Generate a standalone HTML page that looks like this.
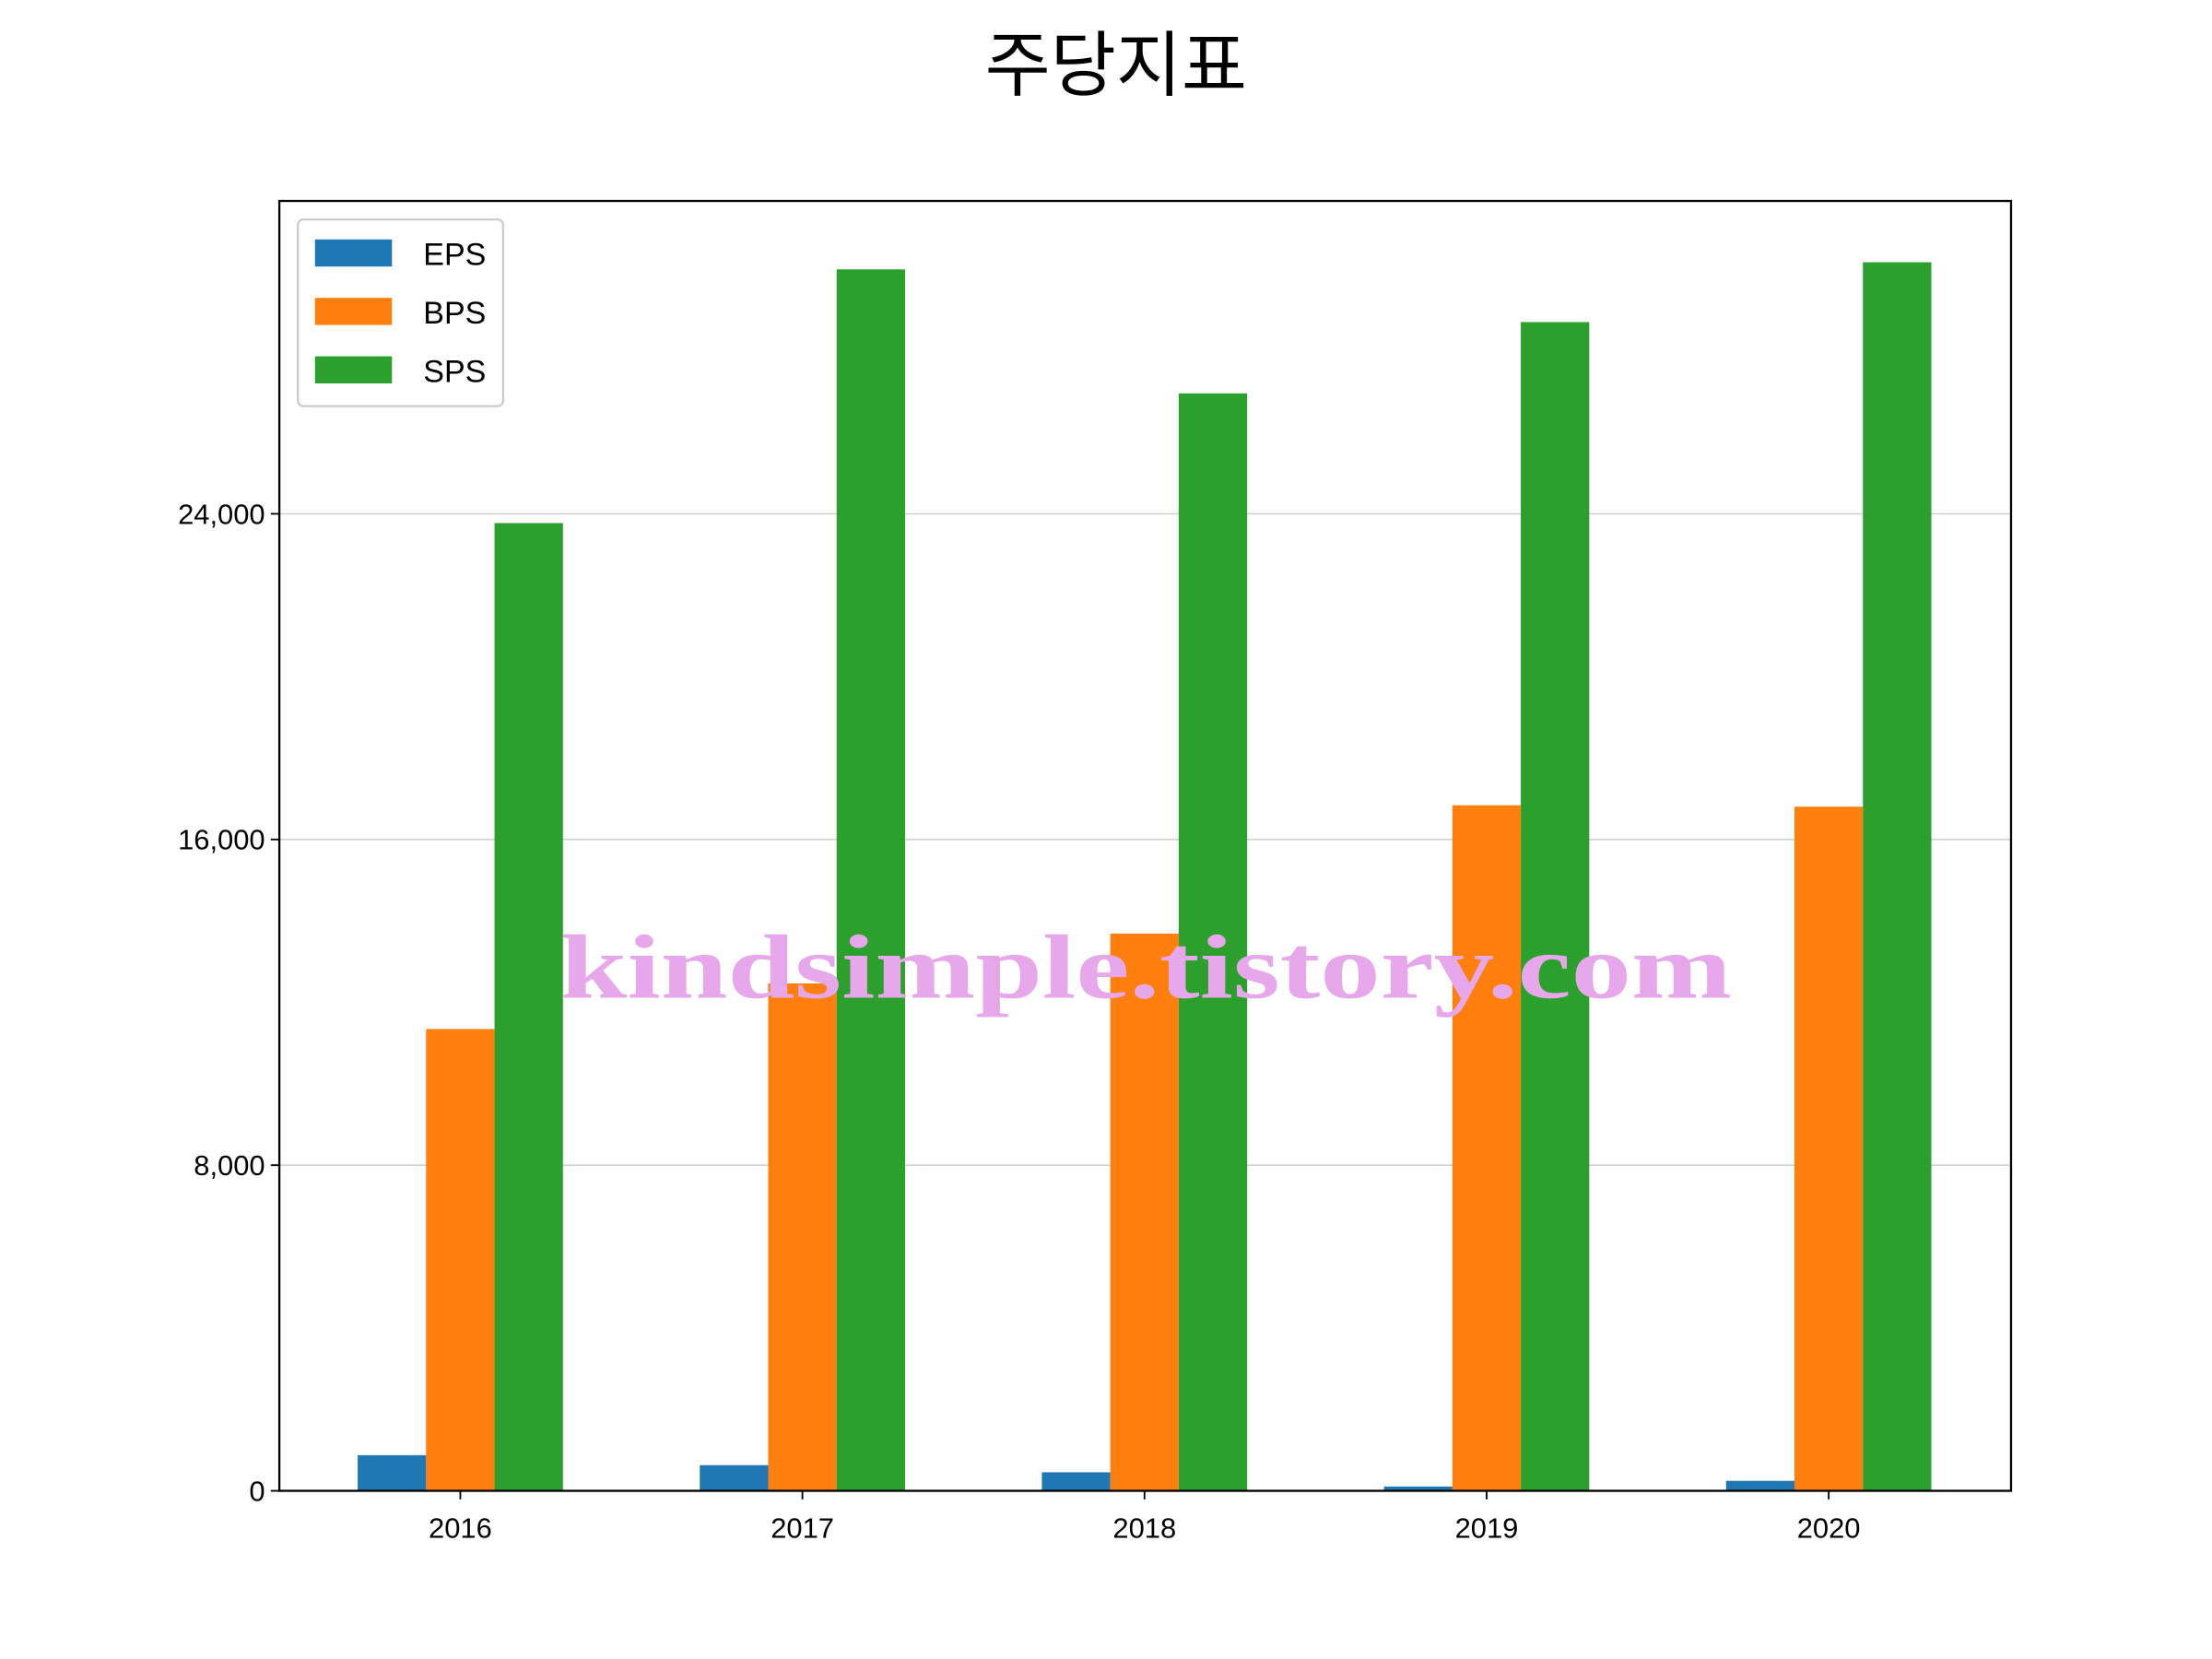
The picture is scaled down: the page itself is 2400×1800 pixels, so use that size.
<!DOCTYPE html>
<html><head><meta charset="utf-8"><style>
html,body{margin:0;padding:0;background:#fff;}
svg{display:block;font-family:"Liberation Sans","Noto Sans CJK KR",sans-serif;}
</style></head><body>
<svg id="chart" width="2400" height="1800" viewBox="0 0 1552 1164" xmlns="http://www.w3.org/2000/svg">
<rect width="1552" height="1164" fill="#fff"/>
<text x="783" y="63" font-size="50" text-anchor="middle" fill="#000">주당지표</text>
<g id="grid"></g>
<g id="bars"></g>
<rect x="196" y="141" width="1215" height="905" fill="none" stroke="#000" stroke-width="1.5"/>
<g id="axes"></g>
<text x="804" y="700" font-family="'Liberation Serif',serif" font-weight="bold" font-size="64" fill="#e6a8ea" text-anchor="middle" textLength="822" lengthAdjust="spacingAndGlyphs">kindsimple.tistory.com</text>
<g>
<rect x="209" y="154" width="144" height="131" rx="4" fill="#fff" fill-opacity="0.8" stroke="#ccc" stroke-width="1.5"/>
<rect x="221" y="168" width="54" height="19" fill="#1f77b4"/>
<text x="297" y="186" font-size="22">EPS</text>
<rect x="221" y="209" width="54" height="19" fill="#ff7f0e"/>
<text x="297" y="227" font-size="22">BPS</text>
<rect x="221" y="250" width="54" height="19" fill="#2ca02c"/>
<text x="297" y="268" font-size="22">SPS</text>
</g>
</svg>
<script>
const categories = ["2016","2017","2018","2019","2020"];
const epsValues = [875, 630, 455, 105, 245];
const bpsValues = [11344, 12464, 13689, 16840, 16805];
const spsValues = [23772, 30004, 26958, 28709, 30179];
const yTicks = [0, 8000, 16000, 24000];
const yTickLabels = ["0","8,000","16,000","24,000"];

const NS = "http://www.w3.org/2000/svg";
const L=196,R=1411,T=141,B=1046;
const xMin=-0.529, xMax=4.533, yMax=8000*(B-T)/228.5;
function xs(v){return L+(v-xMin)/(xMax-xMin)*(R-L);}
function ys(v){return B-v/yMax*(B-T);}
function mk(tag,attrs,parent){const e=document.createElementNS(NS,tag);for(const k in attrs)e.setAttribute(k,attrs[k]);parent.appendChild(e);return e;}
const grid=document.getElementById('grid'),bars=document.getElementById('bars'),axes=document.getElementById('axes');
yTicks.forEach((t,i)=>{
  const y=ys(t);
  if(t>0){const g=mk('line',{x1:L,x2:R,y1:y,y2:y,stroke:'#d0d0d0','stroke-width':1},grid);
  
  }
  const tk=mk('line',{x1:L-6,x2:L,y1:y,y2:y,stroke:'#000','stroke-width':1.2},axes);
  
  
  const lb=mk('text',{x:L-10,y:y+7,'font-size':20,'text-anchor':'end'},axes);
  lb.textContent=yTickLabels[i];
  
  
});
const series=[[epsValues,'#1f77b4',-0.2,'eps'],[bpsValues,'#ff7f0e',0,'bps'],[spsValues,'#2ca02c',0.2,'sps']];
const bw=0.2;
categories.forEach((c,i)=>{
  series.forEach(([vals,col,off,nm])=>{
    const x0=xs(i+off-bw/2),x1=xs(i+off+bw/2);
    const r=mk('rect',{x:x0,y:ys(vals[i]),width:x1-x0,height:B-ys(vals[i]),fill:col},bars);
    
    
  });
  const x=xs(i);
  const tk=mk('line',{x1:x,x2:x,y1:B,y2:B+6,stroke:'#000','stroke-width':1.2},axes);
  
  
  const lb=mk('text',{x:x,y:B+33,'font-size':20,'text-anchor':'middle'},axes);
  lb.textContent=c;
  
  
});
</script>
</body></html>
